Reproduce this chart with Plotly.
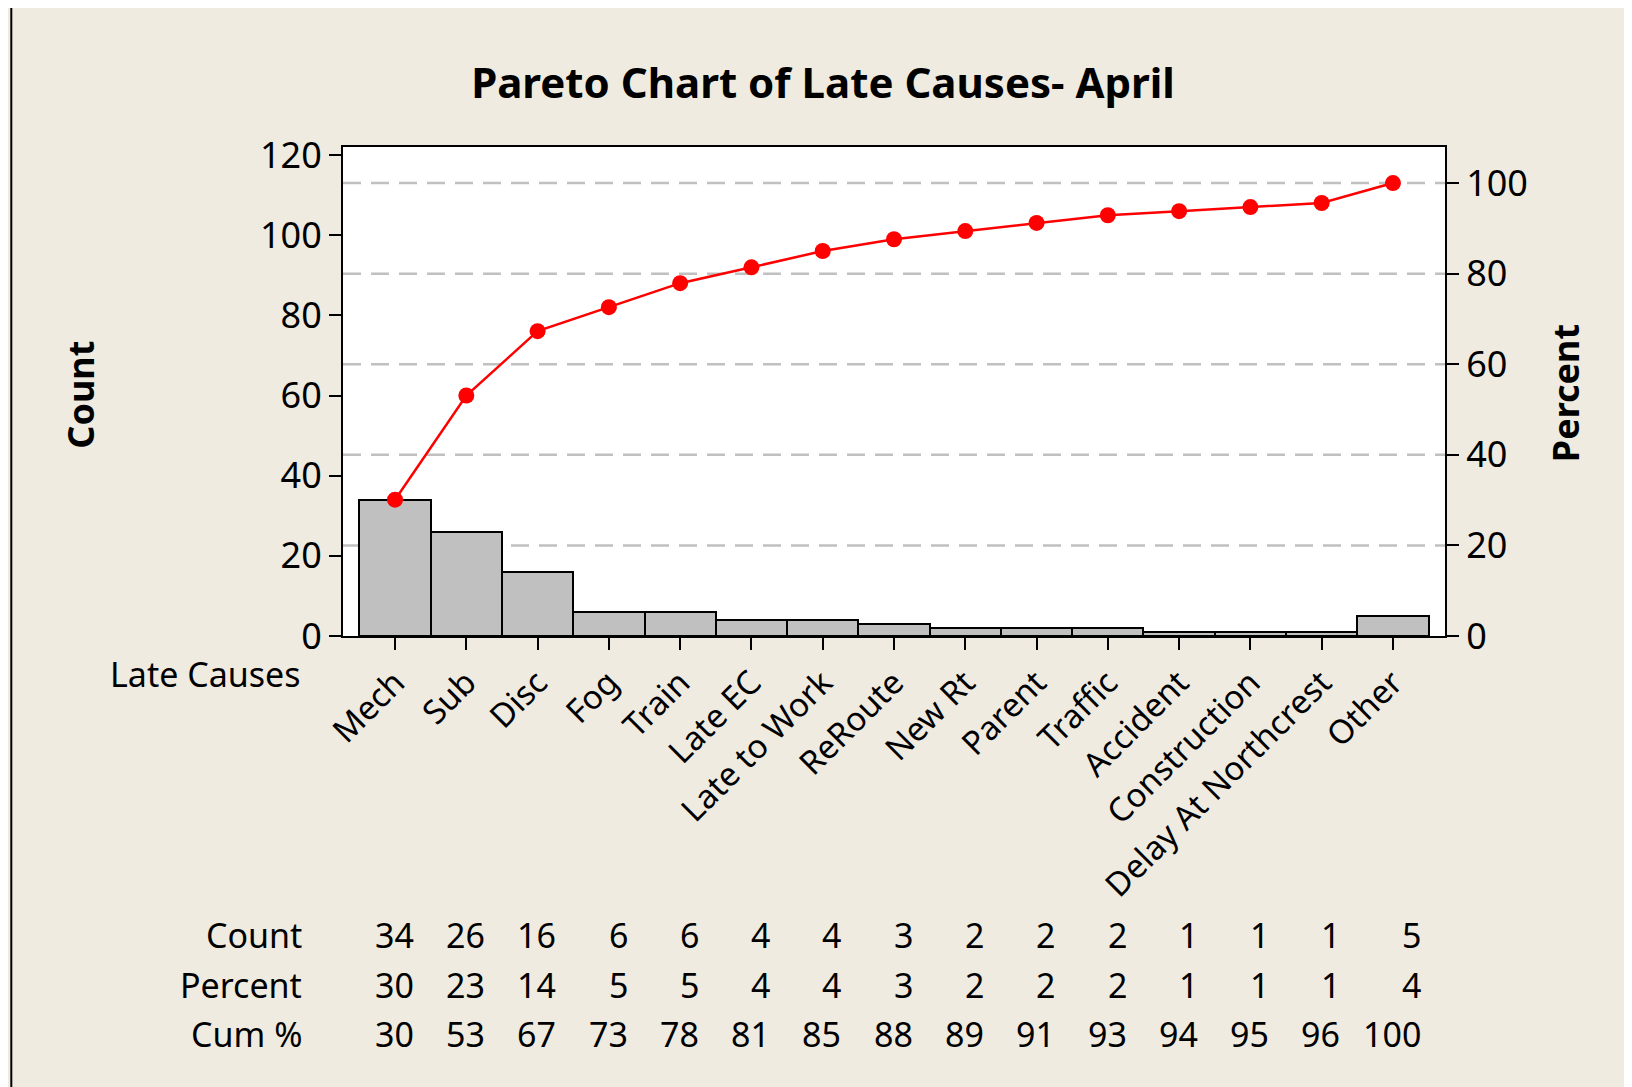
import plotly.graph_objects as go

# Pareto data
causes = ["Mech", "Sub", "Disc", "Fog", "Train", "Late EC", "Late to Work",
          "ReRoute", "New Rt", "Parent", "Traffic", "Accident", "Construction",
          "Delay At Northcrest", "Other"]
counts = [34, 26, 16, 6, 6, 4, 4, 3, 2, 2, 2, 1, 1, 1, 5]
cum_pct = [30.1, 53.1, 67.3, 72.6, 77.9, 81.4, 85.0, 87.6, 89.4, 91.2,
           92.9, 93.8, 94.7, 95.6, 100.0]
pct_labels = [30, 23, 14, 5, 5, 4, 4, 3, 2, 2, 2, 1, 1, 1, 4]
cum_labels = [30, 53, 67, 73, 78, 81, 85, 88, 89, 91, 93, 94, 95, 96, 100]
count_ticks = [0, 20, 40, 60, 80, 100, 120]
pct_ticks = [0, 20, 40, 60, 80, 100]

FONT = "Noto Sans, Liberation Sans, Arial, sans-serif"
BG = "#EFEBE1"
total = sum(counts)
ymax = 122
x = list(range(len(causes)))

fig = go.Figure()
fig.add_trace(go.Bar(
    x=x, y=counts, width=1,
    marker=dict(color="#C0C0C0", line=dict(color="black", width=2)),
    showlegend=False,
))
fig.add_trace(go.Scatter(
    x=x, y=cum_pct, yaxis="y2", mode="lines+markers",
    line=dict(color="#FF0000", width=2.5),
    marker=dict(color="#FF0000", size=16),
    showlegend=False,
))

# dashed reference lines behind the bars (percent scale)
for p in pct_ticks[1:]:
    fig.add_shape(type="line", xref="paper", yref="y2", x0=0, x1=1, y0=p, y1=p,
                  line=dict(color="#C0C0C0", width=2.5, dash="18px,10px"),
                  layer="below")

# outer frame (left and top edges)
fig.add_shape(type="line", xref="paper", yref="paper", x0=-0.301, x1=1.2,
              y0=1.288, y1=1.288, line=dict(color="black", width=2))
fig.add_shape(type="line", xref="paper", yref="paper", x0=-0.301, x1=-0.301,
              y0=1.288, y1=-0.95, line=dict(color="black", width=2))

ann = []
ann.append(dict(text="<b>Count</b>", x=-0.238, y=0.493, xref="paper", yref="paper",
                xanchor="center", yanchor="middle", textangle=-90,
                showarrow=False, font=dict(size=36, color="black")))
ann.append(dict(text="<b>Percent</b>", x=1.110, y=0.497, xref="paper", yref="paper",
                xanchor="center", yanchor="middle", textangle=-90,
                showarrow=False, font=dict(size=36, color="black")))
ann.append(dict(text="Late Causes", x=-0.036, y=-0.078, xref="paper", yref="paper",
                xanchor="right", yanchor="middle", showarrow=False,
                font=dict(size=34, color="black")))

rows = [("Count", counts, -0.611), ("Percent", pct_labels, -0.714),
        ("Cum %", cum_labels, -0.813)]
for name, vals, ry in rows:
    ann.append(dict(text=name, x=-0.035, y=ry, xref="paper", yref="paper",
                    xanchor="right", yanchor="middle", showarrow=False,
                    font=dict(size=34, color="black")))
    for i, v in enumerate(vals):
        off = 0.42 if i == len(vals) - 1 else 0.29
        ann.append(dict(text=str(v), x=i + off, y=ry, xref="x", yref="paper",
                        xanchor="right", yanchor="middle", showarrow=False,
                        font=dict(size=34, color="black")))

# page body adds 8px offset, margins compensate for it
fig.update_layout(
    width=1632, height=1087,
    margin=dict(l=335, r=195, t=139, b=459),
    paper_bgcolor=BG, plot_bgcolor="white",
    font=dict(family=FONT, size=34, color="black"),
    title=dict(text="<b>Pareto Chart of Late Causes- April</b>",
               x=0.4994, xref="container", xanchor="center",
               y=0.931, yref="container", yanchor="middle",
               font=dict(size=42, color="black")),
    bargap=0,
    annotations=ann,
    xaxis=dict(range=[-0.73, 14.73], tickvals=x, ticktext=causes, tickangle=-45,
               ticks="outside", ticklen=12, tickwidth=2, tickcolor="black",
               showline=True, linecolor="black", linewidth=2, mirror=True,
               showgrid=False, zeroline=False, automargin=False,
               tickfont=dict(size=33)),
    yaxis=dict(range=[0, ymax], tickvals=count_ticks, ticks="outside", ticklen=12,
               tickwidth=2, tickcolor="black", showline=True, linecolor="black",
               linewidth=2, showgrid=False, zeroline=False, automargin=False,
               tickfont=dict(size=36)),
    yaxis2=dict(range=[0, ymax * 100 / total], tickvals=pct_ticks, overlaying="y",
                side="right", ticks="outside", ticklen=12, tickwidth=2,
                tickcolor="black", showline=True, linecolor="black", linewidth=2,
                showgrid=False, zeroline=False, automargin=False,
                tickfont=dict(size=36)),
)

fig.write_html("out.html")
